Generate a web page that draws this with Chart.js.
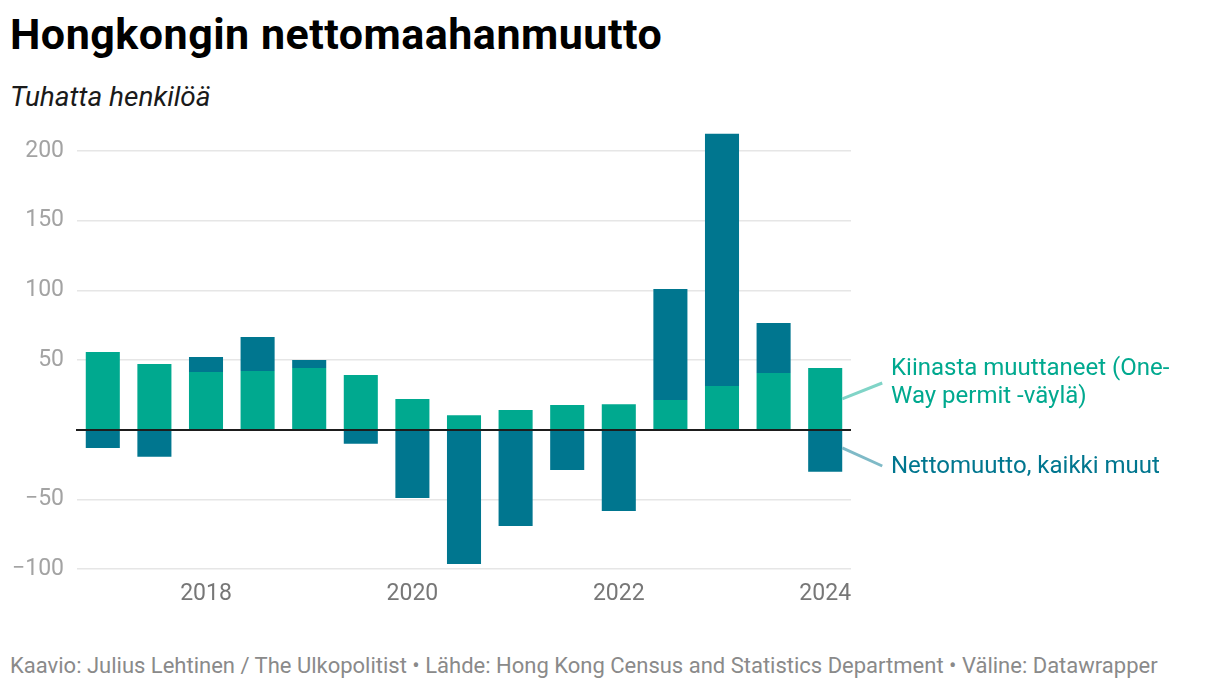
<!DOCTYPE html>
<html>
<head>
<meta charset="utf-8">
<script src="https://cdn.jsdelivr.net/npm/chart.js@4.4.1/dist/chart.umd.min.js"></script>
<style>
    body { margin: 0; width: 1220px; height: 692px; background: #fff; font-family: Roboto, sans-serif; position: relative; overflow: hidden; }
    #title { position: absolute; left: 10px; top: 9px; font-size: 43px; font-weight: 700; color: #000; letter-spacing: 0.5px; line-height: normal; }
    #subtitle { position: absolute; left: 10px; top: 80px; font-size: 28px; font-style: italic; color: #1a1a1a; }
    #wrap { position: absolute; left: 0; top: 110px; width: 900px; height: 500px; }
    .lbl { position: absolute; left: 891px; font-size: 24px; line-height: 27.5px; }
    #lblGreen { top: 354px; color: #00a98f; }
    #lblTeal { top: 452px; color: #00768f; }
    #footer { position: absolute; left: 10px; top: 653px; font-size: 22px; color: #8a8a8a; }
</style>
</head>
<body>
<div id="title">Hongkongin nettomaahanmuutto</div>
<div id="subtitle">Tuhatta henkilöä</div>
<div id="wrap"><canvas id="barChart" width="900" height="500"></canvas></div>
<div class="lbl" id="lblGreen">Kiinasta muuttaneet (One-<br>Way permit -väylä)</div>
<div class="lbl" id="lblTeal">Nettomuutto, kaikki muut</div>
<div id="footer">Kaavio: Julius Lehtinen / The Ulkopolitist • Lähde: Hong Kong Census and Statistics Department • Väline: Datawrapper</div>

<script>
// half-year periods, thousands of persons
var periods    = ['2017 H1','2017 H2','2018 H1','2018 H2','2019 H1','2019 H2','2020 H1','2020 H2',
                  '2021 H1','2021 H2','2022 H1','2022 H2','2023 H1','2023 H2','2024 H1'];
var oneWay     = [55.7, 47.1, 41.3, 42.0, 44.2, 39.2, 21.9, 10.4, 14.0, 17.6, 18.3, 21.2, 31.3, 40.6, 44.2];
var otherNet   = [-13.1, -19.5, 10.8, 24.5, 5.7, -10.2, -49.0, -96.4, -69.1, -28.9, -58.3, 79.7, 181.0, 35.9, -30.3];
var yTicks     = [-100, -50, 0, 50, 100, 150, 200];

var zeroLine = {
    id: 'zeroLine',
    afterDatasetsDraw: function (chart) {
        var ctx = chart.ctx, area = chart.chartArea;
        var y = Math.round(chart.scales.y.getPixelForValue(0));
        ctx.save();
        ctx.strokeStyle = '#1d1d1d';
        ctx.lineWidth = 2;
        ctx.beginPath();
        ctx.moveTo(area.left - 1, y);
        ctx.lineTo(area.right, y);
        ctx.stroke();

        // connector lines to the series labels
        var last = periods.length - 1;
        var bar = chart.getDatasetMeta(0).data[last];
        var x0 = bar.x + bar.width / 2;
        var ys = chart.scales.y;
        ctx.lineWidth = 3;
        ctx.strokeStyle = '#80d4c7';
        ctx.beginPath();
        ctx.moveTo(x0, ys.getPixelForValue(oneWay[last] / 2));
        ctx.lineTo(x0 + 40, 273);
        ctx.stroke();
        ctx.strokeStyle = '#7fbac7';
        ctx.beginPath();
        ctx.moveTo(x0, ys.getPixelForValue(otherNet[last] / 2 + 2));
        ctx.lineTo(x0 + 40, 356);
        ctx.stroke();
        ctx.restore();
    }
};

var ctxB = document.getElementById('barChart').getContext('2d');
var myChart = new Chart(ctxB, {
    type: 'bar',
    data: {
        labels: periods,
        datasets: [{
            label: 'Kiinasta muuttaneet (One-Way permit -väylä)',
            data: oneWay,
            backgroundColor: '#00a98f'
        }, {
            label: 'Nettomuutto, kaikki muut',
            data: otherNet,
            backgroundColor: '#00768f'
        }]
    },
    options: {
        responsive: false,
        animation: false,
        layout: { padding: { top: 20, right: 49, left: 0, bottom: 0 } },
        datasets: { bar: { barPercentage: 0.66, categoryPercentage: 1 } },
        plugins: { legend: { display: false }, tooltip: { enabled: false } },
        scales: {
            x: {
                stacked: true,
                grid: { display: false, drawTicks: false },
                border: { display: false },
                afterFit: function (s) { s.height = 41; s.paddingLeft = 0; s.paddingRight = 0; },
                ticks: {
                    autoSkip: false,
                    maxRotation: 0,
                    padding: 11,
                    color: '#777',
                    font: { family: 'Roboto', size: 23 },
                    callback: function (v, i) {
                        var p = periods[i].split(' ');
                        return (p[1] === 'H1' && +p[0] % 2 === 0) ? p[0] : '';
                    }
                }
            },
            y: {
                stacked: true,
                min: -100,
                max: 215,
                afterFit: function (s) { s.width = 77; s.paddingTop = 0; s.paddingBottom = 0; },
                afterBuildTicks: function (s) {
                    s.ticks = yTicks.map(function (v) { return { value: v }; });
                },
                grid: {
                    drawTicks: false,
                    lineWidth: 1.5,
                    color: function (c) { return c.tick && c.tick.value === 0 ? 'rgba(0,0,0,0)' : '#e6e6e6'; }
                },
                border: { display: false },
                ticks: {
                    padding: 13,
                    color: '#a3a3a3',
                    font: { family: 'Roboto', size: 23 },
                    callback: function (v) {
                        if (v === 0) return '';
                        return v < 0 ? '\u2212' + Math.abs(v) : '' + v;
                    }
                }
            }
        }
    },
    plugins: [zeroLine]
});
</script>
</body>
</html>
